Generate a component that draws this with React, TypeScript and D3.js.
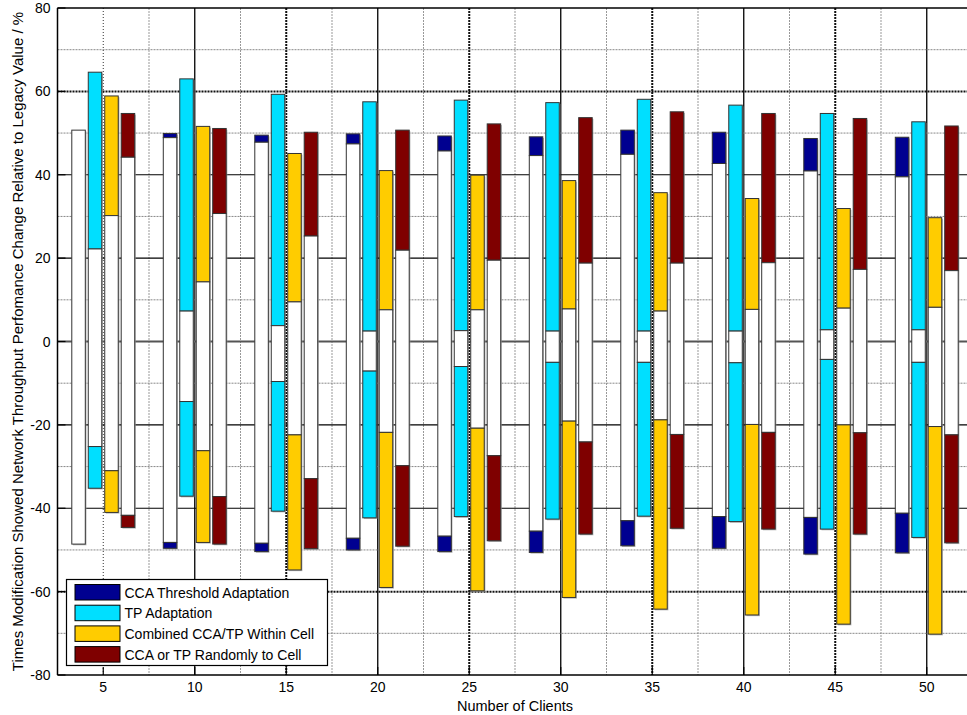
import React, { useRef, useEffect } from 'react';
import * as d3 from 'd3';

// Number of clients on the x axis
const clients = [5, 10, 15, 20, 25, 30, 35, 40, 45, 50];

const seriesNames = [
  'CCA Threshold Adaptation',
  'TP Adaptation',
  'Combined CCA/TP Within Cell',
  'CCA or TP Randomly to Cell',
];
const seriesColors = ['#000090', '#00DFFF', '#FFCC00', '#7F0000'];

// each entry: [top, upper inner, lower inner, bottom]
// colored from upper inner to top and from bottom to lower inner, white in between
const ccaThreshold = [
  [50.7, 50.7, -48.6, -48.6],
  [49.9, 48.9, -48.2, -49.6],
  [49.5, 47.8, -48.4, -50.4],
  [49.8, 47.4, -47.2, -50.0],
  [49.3, 45.7, -46.7, -50.4],
  [49.1, 44.6, -45.5, -50.6],
  [50.7, 44.9, -43.0, -49.0],
  [50.2, 42.7, -42.0, -49.6],
  [48.7, 40.9, -42.2, -51.0],
  [49.0, 39.5, -41.2, -50.7],
];
const tpAdaptation = [
  [64.6, 22.2, -25.2, -35.2],
  [63.0, 7.3, -14.4, -37.1],
  [59.3, 3.8, -9.6, -40.7],
  [57.5, 2.5, -7.1, -42.3],
  [57.9, 2.6, -6.0, -42.0],
  [57.3, 2.5, -5.0, -42.6],
  [58.1, 2.5, -5.0, -41.9],
  [56.7, 2.5, -5.1, -43.2],
  [54.7, 2.8, -4.3, -45.0],
  [52.7, 2.8, -5.0, -47.0],
];
const combinedWithinCell = [
  [58.9, 30.2, -31.0, -41.0],
  [51.6, 14.3, -26.2, -48.2],
  [45.1, 9.5, -22.4, -54.8],
  [41.0, 7.6, -21.8, -59.0],
  [39.9, 7.6, -20.8, -59.8],
  [38.6, 7.8, -19.1, -61.4],
  [35.7, 7.3, -18.8, -64.2],
  [34.3, 7.7, -19.9, -65.6],
  [31.9, 8.0, -20.0, -67.8],
  [29.7, 8.2, -20.4, -70.2],
];
const randomlyToCell = [
  [54.7, 44.2, -41.7, -44.6],
  [51.1, 30.7, -37.2, -48.6],
  [50.2, 25.3, -32.9, -49.7],
  [50.7, 21.9, -29.8, -49.1],
  [52.2, 19.5, -27.4, -47.8],
  [53.7, 18.8, -24.1, -46.2],
  [55.1, 18.8, -22.3, -44.8],
  [54.7, 18.9, -21.8, -45.0],
  [53.5, 17.3, -21.9, -46.2],
  [51.7, 17.0, -22.4, -48.3],
];
const allSeries = [ccaThreshold, tpAdaptation, combinedWithinCell, randomlyToCell];

const yTicks = [-80, -60, -40, -20, 0, 20, 40, 60, 80];

function App() {
  const svgRef = useRef(null);

  useEffect(() => {
    const svg = d3.select(svgRef.current);
    svg.selectAll('*').remove();

    const W = 967;
    const H = 715;
    const left = 57.5;
    const top = 8;
    const bottom = 675;
    const font = 'Liberation Sans, Arial, Helvetica, sans-serif';

    const x = d3.scaleLinear().domain([2.5, 52.5]).range([left, left + 50 * 18.3]);
    const y = d3.scaleLinear().domain([-80, 80]).range([bottom, top]);
    const right = x(52.5);

    const offset = d3.scaleBand()
      .domain(seriesNames)
      .range([-1.8, 1.8])
      .paddingInner(0.18)
      .paddingOuter(0.09);

    svg.attr('width', W).attr('height', H);

    svg.append('rect')
      .attr('x', left).attr('y', top)
      .attr('width', right - left).attr('height', bottom - top)
      .attr('fill', '#fff');

    // grid
    const grid = svg.append('g');
    // vertical minor
    d3.range(7.5, 52.5, 5).forEach(v => {
      grid.append('line')
        .attr('x1', x(v)).attr('x2', x(v)).attr('y1', top).attr('y2', bottom)
        .attr('stroke', '#999').attr('stroke-width', 1).attr('stroke-dasharray', '2,1');
    });
    clients.forEach(v => {
      const line = grid.append('line')
        .attr('x1', x(v)).attr('x2', x(v)).attr('y1', top).attr('y2', bottom);
      if (v === 5) {
        line.attr('stroke', '#333').attr('stroke-width', 1).attr('stroke-dasharray', '1,2');
      } else if (v % 10 === 0) {
        line.attr('stroke', '#000').attr('stroke-width', 1.3);
      } else {
        line.attr('stroke', '#111').attr('stroke-width', 2).attr('stroke-dasharray', '2,1');
      }
    });
    // horizontal minor
    d3.range(-70, 80, 20).forEach(v => {
      grid.append('line')
        .attr('x1', left).attr('x2', right).attr('y1', y(v)).attr('y2', y(v))
        .attr('stroke', '#888').attr('stroke-width', 1).attr('stroke-dasharray', '2,1');
    });
    yTicks.filter(v => v > -80 && v < 80).forEach(v => {
      const line = grid.append('line')
        .attr('x1', left).attr('x2', right).attr('y1', y(v)).attr('y2', y(v));
      if (v === 0) {
        line.attr('stroke', '#555').attr('stroke-width', 2);
      } else if (Math.abs(v) === 60) {
        line.attr('stroke', '#111').attr('stroke-width', 2).attr('stroke-dasharray', '2,1');
      } else {
        line.attr('stroke', '#000').attr('stroke-width', 1.2);
      }
    });

    // bars
    const bars = svg.append('g');
    allSeries.forEach((series, si) => {
      const color = seriesColors[si];
      series.forEach((d, i) => {
        const [t, ui, li, b] = d;
        const bx = x(clients[i] + offset(seriesNames[si]));
        const bw = x(offset.bandwidth()) - x(0);
        const g = bars.append('g');
        // soft shadow
        g.append('rect')
          .attr('x', bx + 1.2).attr('y', y(t) + 1.2)
          .attr('width', bw).attr('height', y(b) - y(t))
          .attr('fill', '#999').attr('opacity', 0.7);
        const segs = [
          [t, ui, color],
          [ui, li, '#fff'],
          [li, b, color],
        ];
        segs.forEach(([hi, lo, fill]) => {
          if (hi - lo <= 0.01) return;
          g.append('rect')
            .attr('x', bx).attr('y', y(hi))
            .attr('width', bw).attr('height', y(lo) - y(hi))
            .attr('fill', fill)
            .attr('stroke', '#333')
            .attr('stroke-width', 1);
        });
      });
    });

    // axes frame
    svg.append('line')
      .attr('x1', left).attr('x2', right).attr('y1', top).attr('y2', top)
      .attr('stroke', '#000').attr('stroke-width', 1.3);
    svg.append('line')
      .attr('x1', left).attr('x2', right).attr('y1', bottom).attr('y2', bottom)
      .attr('stroke', '#000').attr('stroke-width', 1.5);
    svg.append('line')
      .attr('x1', left).attr('x2', left).attr('y1', top).attr('y2', bottom)
      .attr('stroke', '#000').attr('stroke-width', 1.5);

    // ticks
    yTicks.forEach(v => {
      svg.append('line')
        .attr('x1', left).attr('x2', left + 8).attr('y1', y(v)).attr('y2', y(v))
        .attr('stroke', '#000').attr('stroke-width', 1.2);
      svg.append('text')
        .attr('x', left - 7).attr('y', y(v) + 5)
        .attr('text-anchor', 'end')
        .attr('font-family', font).attr('font-size', 14)
        .attr('fill', '#000')
        .text(v);
    });
    clients.forEach(v => {
      svg.append('line')
        .attr('x1', x(v)).attr('x2', x(v)).attr('y1', bottom).attr('y2', bottom - 8)
        .attr('stroke', '#000').attr('stroke-width', 1.2);
      svg.append('text')
        .attr('x', x(v)).attr('y', bottom + 17)
        .attr('text-anchor', 'middle')
        .attr('font-family', font).attr('font-size', 14)
        .attr('fill', '#000')
        .text(v);
    });

    // axis titles
    svg.append('text')
      .attr('x', 515).attr('y', 711)
      .attr('text-anchor', 'middle')
      .attr('font-family', font).attr('font-size', 14.5)
      .text('Number of Clients');
    svg.append('text')
      .attr('transform', `translate(23,${(top + bottom) / 2}) rotate(-90)`)
      .attr('text-anchor', 'middle')
      .attr('font-family', font).attr('font-size', 15)
      .text('Times Modification Showed Network Throughput Perfomance Change Relative to Legacy Value / %');

    // legend
    const lg = svg.append('g').attr('transform', 'translate(66.5,579.5)');
    lg.append('rect')
      .attr('width', 261).attr('height', 86)
      .attr('fill', '#fff').attr('stroke', '#000').attr('stroke-width', 1.2);
    seriesNames.forEach((name, i) => {
      const ry = 5 + i * 20.7;
      lg.append('rect')
        .attr('x', 8.5).attr('y', ry)
        .attr('width', 45).attr('height', 15.5)
        .attr('fill', seriesColors[i]).attr('stroke', '#000').attr('stroke-width', 1);
      lg.append('text')
        .attr('x', 58).attr('y', ry + 13)
        .attr('font-family', font).attr('font-size', 14)
        .attr('fill', '#000')
        .text(name);
    });
  }, []);

  return (
    <svg
      ref={svgRef}
      style={{ position: 'absolute', left: 0, top: 0, display: 'block', background: '#fff' }}
    ></svg>
  );
}

export default App;
